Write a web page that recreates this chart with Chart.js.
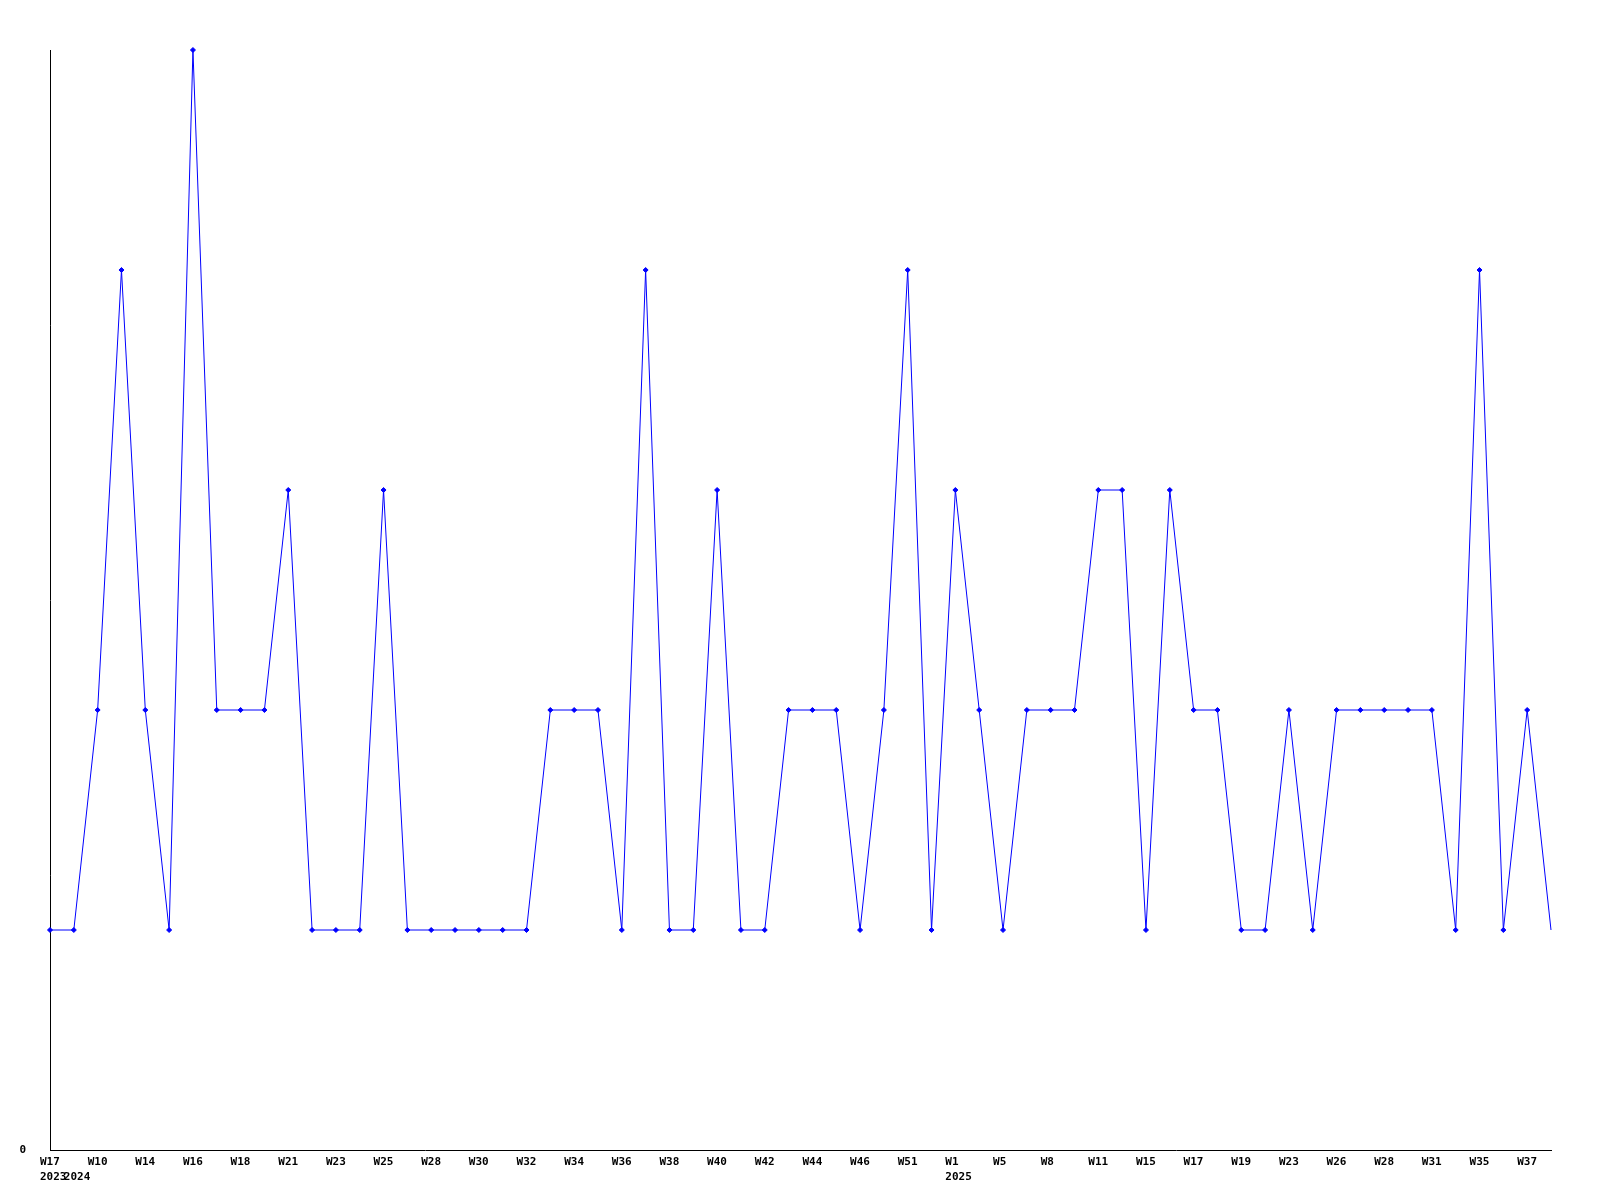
<!DOCTYPE html>
<html>
<head>
<meta charset="utf-8">
<script src="https://cdn.jsdelivr.net/npm/chart.js@4/dist/chart.umd.min.js"></script>
<style>
  html, body { margin: 0; padding: 0; background: #ffffff; }
  #wrap { width: 1600px; height: 1200px; }
</style>
</head>
<body>
<div id="wrap"><canvas id="c" width="1600" height="1200"></canvas></div>
<script>
// Categories: ISO year-week of each point
const categories = [
  '2023-W17','2024-W5','2024-W10','2024-W12','2024-W14','2024-W15','2024-W16','2024-W17',
  '2024-W18','2024-W20','2024-W21','2024-W22','2024-W23','2024-W24','2024-W25','2024-W27',
  '2024-W28','2024-W29','2024-W30','2024-W31','2024-W32','2024-W33','2024-W34','2024-W35',
  '2024-W36','2024-W37','2024-W38','2024-W39','2024-W40','2024-W41','2024-W42','2024-W43',
  '2024-W44','2024-W45','2024-W46','2024-W48','2024-W51','2024-W52','2025-W1','2025-W3',
  '2025-W5','2025-W7','2025-W8','2025-W10','2025-W11','2025-W13','2025-W15','2025-W16',
  '2025-W17','2025-W18','2025-W19','2025-W21','2025-W23','2025-W25','2025-W26','2025-W27',
  '2025-W28','2025-W30','2025-W31','2025-W33','2025-W35','2025-W36','2025-W37','2025-W38'
];
// Values per week
const values = [
  1,1,2,4,2,1,5,2,
  2,2,3,1,1,1,3,1,
  1,1,1,1,1,2,2,2,
  1,4,1,1,3,1,1,2,
  2,2,1,2,4,1,3,2,
  1,2,2,2,3,3,1,3,
  2,2,1,1,2,1,2,2,
  2,2,2,1,4,1,2,1
];
const yTickLabels = ['0'];
const yMin = 0, yMax = 5;

const weekOf = c => c.split('-')[1];
const yearOf = c => c.split('-')[0];

new Chart(document.getElementById('c'), {
  type: 'line',
  data: {
    labels: categories,
    datasets: [{
      data: values,
      borderColor: '#0000ff',
      backgroundColor: '#0000ff',
      borderWidth: 1,
      tension: 0,
      pointStyle: 'rectRot',
      pointRadius: ctx => ctx.dataIndex === values.length - 1 ? 0 : 2.5,
      pointBorderWidth: 1,
      pointBorderColor: '#0000ff',
      pointBackgroundColor: '#0000ff',
      clip: false
    }]
  },
  options: {
    responsive: false,
    animation: false,
    devicePixelRatio: 1,
    layout: { padding: { top: 50, right: 49, left: 0, bottom: 0 } },
    plugins: { legend: { display: false }, tooltip: { enabled: false } },
    scales: {
      x: {
        type: 'category',
        offset: false,
        grid: { display: false, drawTicks: false },
        border: { display: true, color: '#000000', width: 1 },
        afterFit: s => { s.height = 50; },
        ticks: {
          autoSkip: false,
          maxRotation: 0,
          minRotation: 0,
          align: 'start',
          labelOffset: -10,
          padding: 4,
          color: '#000000',
          font: { family: 'DejaVu Sans Mono', weight: 'bold', size: 11, lineHeight: 1.4 },
          callback: function(v, i) {
            const c = categories[i];
            const wk = (i % 2 === 0) ? weekOf(c) : '';
            const yr = (i === 0 || yearOf(categories[i - 1]) !== yearOf(c)) ? yearOf(c) : '';
            if (yr) return [wk, yr];
            return wk;
          }
        }
      },
      y: {
        min: yMin,
        max: yMax,
        grid: { display: false, drawTicks: false },
        border: { display: true, color: '#000000', width: 1 },
        afterFit: s => { s.width = 50; },
        ticks: {
          stepSize: 5,
          padding: 24,
          color: '#000000',
          font: { family: 'DejaVu Sans Mono', weight: 'bold', size: 11 },
          callback: v => (v === 0 ? yTickLabels[0] : '')
        }
      }
    }
  }
});
</script>
</body>
</html>
